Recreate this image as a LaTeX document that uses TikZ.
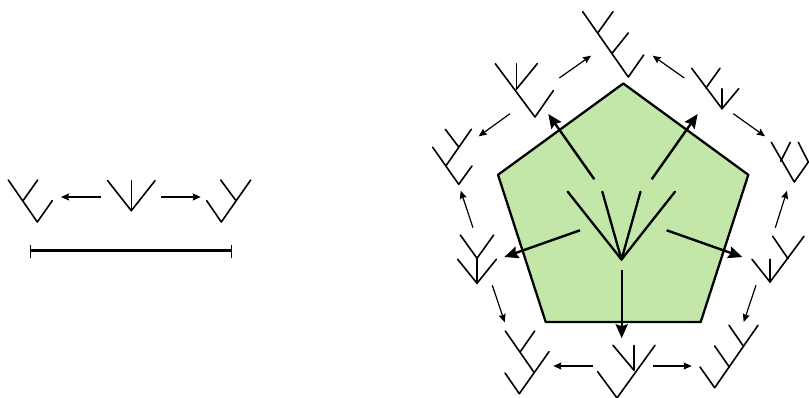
\documentclass[tikz,border=0pt]{standalone}
\usetikzlibrary{arrows.meta}
\definecolor{pentgreen}{HTML}{C3E6A9}
\tikzset{
  treeline/.style={line width=1.6pt,line cap=round,line join=round},
  smallarrow/.style={line width=1.2pt,-{Stealth[length=8pt,width=7pt,inset=1pt]}},
  bigarrow/.style={line width=2.4pt,-{Stealth[length=14pt,width=12pt,inset=2pt]}},
  pentagonshape/.style={draw=black,fill=pentgreen,line width=2.3pt,line join=round},
  segbar/.style={line width=3.4pt},
  segtick/.style={line width=1.4pt},
}
\begin{document}
\begin{tikzpicture}[x=1pt,y=-1pt]
\useasboundingbox (0,0) rectangle (809,397);
% ---- left: small associahedron
\begin{scope}[treeline]
\draw (8.3,180) -- (37.3,222) -- (52.3,200.7);
\draw (23,200.7) -- (37.7,180);
\draw (107.7,180.7) -- (131.3,210.7) -- (155,180.7);
\draw (131.3,180.7) -- (131.3,210.7);
\draw (206.7,200.7) -- (221.3,222) -- (250.7,180);
\draw (236,200.7) -- (220.7,180);
\end{scope}
\coordinate (ls) at (100.7,197); \coordinate (le) at (61,197);
\coordinate (rs) at (161,197);   \coordinate (re) at (200.7,197);
\draw[smallarrow] (ls) -- (le);
\draw[smallarrow] (rs) -- (re);
\coordinate (barL) at (30.5,250.5); \coordinate (barR) at (231.7,250.5);
\draw[segbar] (barL) -- (barR);
\draw[segtick] (30.5,244.5) -- (30.5,257.5);
\draw[segtick] (231.7,244.5) -- (231.7,257.5);
% ---- pentagon
\coordinate (pA) at (623.3,83.5);
\coordinate (pB) at (748.3,174.8);
\coordinate (pC) at (700.7,322);
\coordinate (pD) at (545.7,322);
\coordinate (pE) at (498,174.8);
\draw[pentagonshape] (pA) -- (pB) -- (pC) -- (pD) -- (pE) -- cycle;
% ---- central tree
\coordinate (croot) at (621.5,259.5);
\begin{scope}[line width=2.3pt,line cap=round,line join=round]
\draw (567.7,191.7) -- (croot) -- (675,191.7);
\draw (602.3,191.7) -- (croot) -- (640.5,191.7);
\end{scope}
% ---- big arrows
\coordinate (b1s) at (594.3,179.3); \coordinate (b1e) at (548.3,114);
\coordinate (b2s) at (651.7,179.3); \coordinate (b2e) at (697.7,114);
\coordinate (b3s) at (580,230.3);   \coordinate (b3e) at (504.3,257);
\coordinate (b4s) at (666.7,230.3); \coordinate (b4e) at (742.3,257);
\coordinate (b5s) at (621.7,269.7); \coordinate (b5e) at (621.7,338.3);
\draw[bigarrow] (b1s) -- (b1e);
\draw[bigarrow] (b2s) -- (b2e);
\draw[bigarrow] (b3s) -- (b3e);
\draw[bigarrow] (b4s) -- (b4e);
\draw[bigarrow] (b5s) -- (b5e);
% ---- ring of trees
\begin{scope}[treeline]
% top
\draw (582.7,11.7) -- (628.3,77) -- (643.7,55);
\draw (612,53.3) -- (628.3,33);
\draw (597.7,33) -- (613,11.7);
% upper left
\draw (495.3,63.7) -- (535,117) -- (553.3,90.7);
\draw (516.3,63.7) -- (516.3,89.3);
\draw (516.3,89.3) -- (537.3,63.7);
% left
\draw (432.7,147.3) -- (458.7,184.3) -- (472,166);
\draw (446,165.7) -- (471.3,129.3);
\draw (458.7,147) -- (445.3,129.3);
% lower left
\draw (457.7,259.3) -- (477,283.3) -- (496.3,259.3);
\draw (477,283.3) -- (477,258.3);
\draw (460.3,235) -- (477,258.3) -- (493.7,235);
% bottom left
\draw (505,373) -- (519.3,393.7) -- (549,351.7);
\draw (534,372.3) -- (505.3,331);
\draw (520.3,351.7) -- (534.7,331);
% bottom
\draw (597.7,371.7) -- (617,398) -- (655,345.3);
\draw (613,345.3) -- (634,370.3) -- (634,345.3);
% bottom right
\draw (700,367) -- (714.7,387.7) -- (758,325.3);
\draw (729.3,367) -- (714.7,346);
\draw (743.3,346) -- (729,325.3);
% lower right
\draw (752,259.3) -- (770,282) -- (804,236.3);
\draw (770,282) -- (770,259.3);
\draw (788,258.7) -- (772.7,236.3);
% right
\draw (771.3,142.3) -- (794.3,182) -- (808.3,162) -- (798.3,142.3);
\draw (780.7,161.3) -- (790.3,142.3);
% upper right
\draw (691.7,68.3) -- (722,108.7) -- (738.7,88.7);
\draw (722,108.7) -- (722,88.7);
\draw (706,88) -- (720,68.3);
\end{scope}
% ---- small arrows of the ring
\coordinate (aS) at (559.3,78);   \coordinate (aE) at (591,55.7);
\coordinate (bS) at (684.3,78);   \coordinate (bE) at (652.7,55.7);
\coordinate (cS) at (733.3,113.7);\coordinate (cE) at (765,136.3);
\coordinate (dS) at (775.3,227.7);\coordinate (dE) at (787,190.7);
\coordinate (eS) at (756,285.3);  \coordinate (eE) at (743.7,322);
\coordinate (fS) at (653,366);    \coordinate (fE) at (691.7,366);
\coordinate (gS) at (592.7,366);  \coordinate (gE) at (553.3,366);
\coordinate (hS) at (492.3,285.3);\coordinate (hE) at (504.7,322.3);
\coordinate (iS) at (473,227.7);  \coordinate (iE) at (460.7,190.7);
\coordinate (jS) at (510,113.7);  \coordinate (jE) at (478.7,136.3);
\foreach \n in {a,b,c,d,e,f,g,h,i,j}{\draw[smallarrow] (\n S) -- (\n E);}
\end{tikzpicture}
\end{document}
